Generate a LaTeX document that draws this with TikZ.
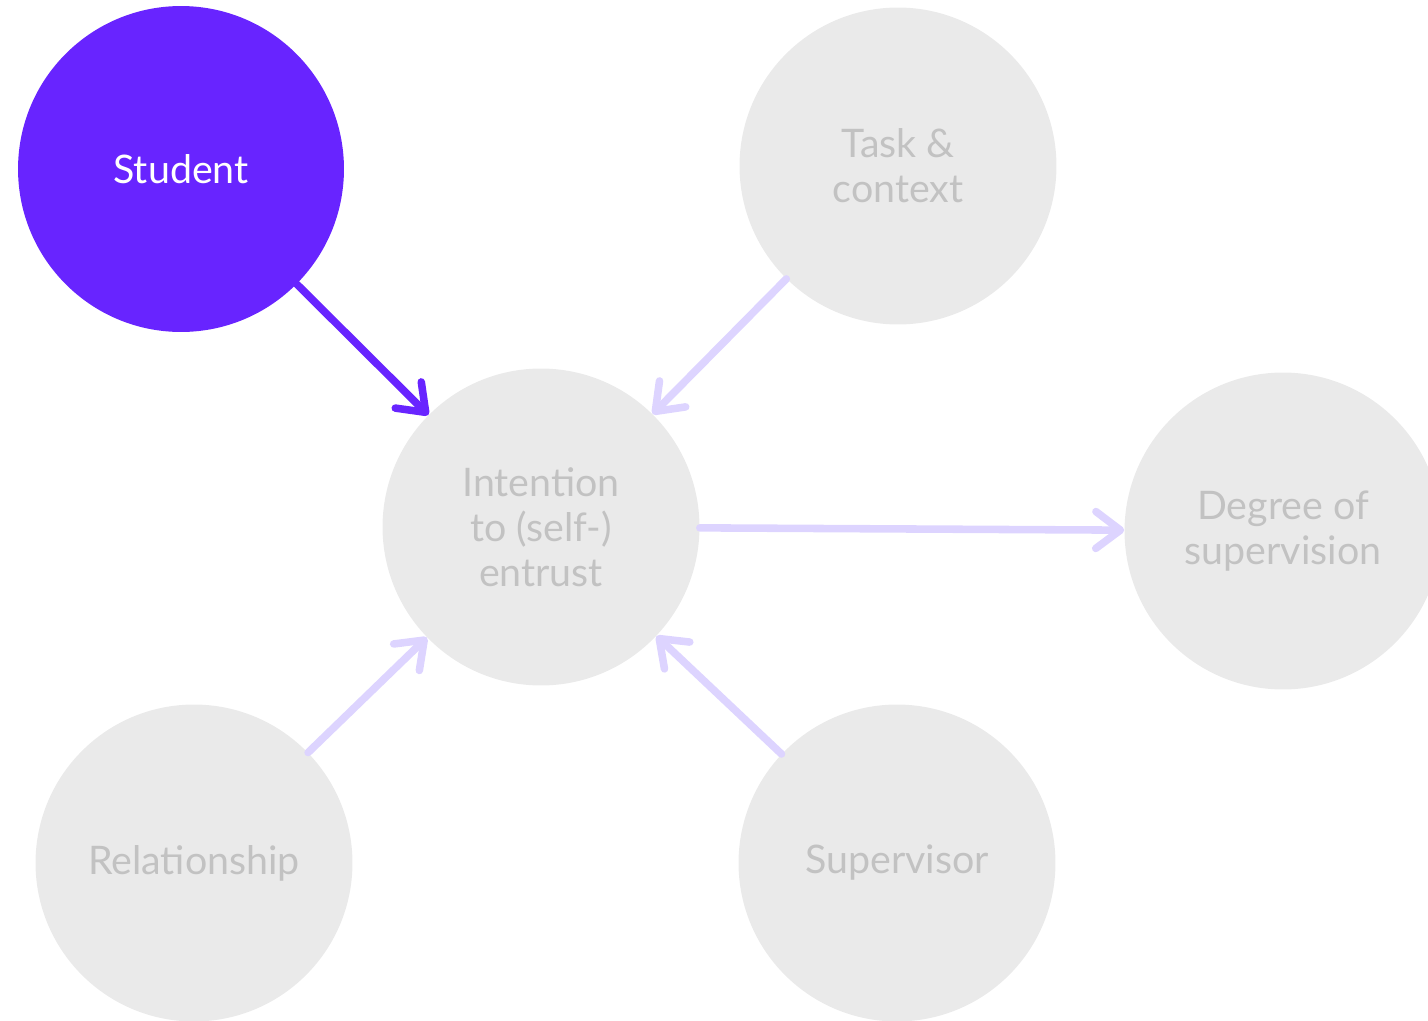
\documentclass[tikz,border=0pt]{standalone}
\usepackage{fontspec}
\setmainfont{Lato}
\usetikzlibrary{arrows.meta}
\definecolor{deeppurple}{HTML}{6824FF}
\definecolor{lavender}{HTML}{DDD4FF}
\definecolor{bubblegray}{HTML}{EAEAEA}
\definecolor{labelgray}{HTML}{C2C2C2}

\begin{document}
\begin{tikzpicture}[x = 0.02 cm, y = -0.02 cm,
	 bubble/.style = {circle, fill = bubblegray, minimum size = 6.34 cm, inner sep = 0 pt, align = center, text = labelgray, font = \fontsize{22.4}{25.6}\selectfont},
	 link/.style = {line width = 4.3pt, lavender, line cap = round, -{Straight Barb[length=14pt,width=21pt,round]}}]
	 \useasboundingbox (0, 0) rectangle (1428, 1021);
	 
	 \node[bubble, fill = deeppurple, text = white, minimum size = 6.52 cm] (student) at (181, 169) {Student};
	 \node[bubble] (task) at (898, 166) {Task \&\\context};
	 \node[bubble] (intent) at (541, 527) {Intention\\to (self-)\\entrust};
	 \node[bubble] (degree) at (1283, 531) {Degree of\\supervision};
	 \node[bubble] (relation) at (194, 863) {Relationship};
	 \node[bubble] (supervisor) at (897, 863) {Supervisor};
	 
	 \draw[link, deeppurple] (student) -- (intent);
	 \draw[link] (task) -- (intent);
	 \draw[link] (intent) -- (degree);
	 \draw[link] (relation) -- (intent);
	 \draw[link] (supervisor) -- (intent);
\end{tikzpicture}
\end{document}
